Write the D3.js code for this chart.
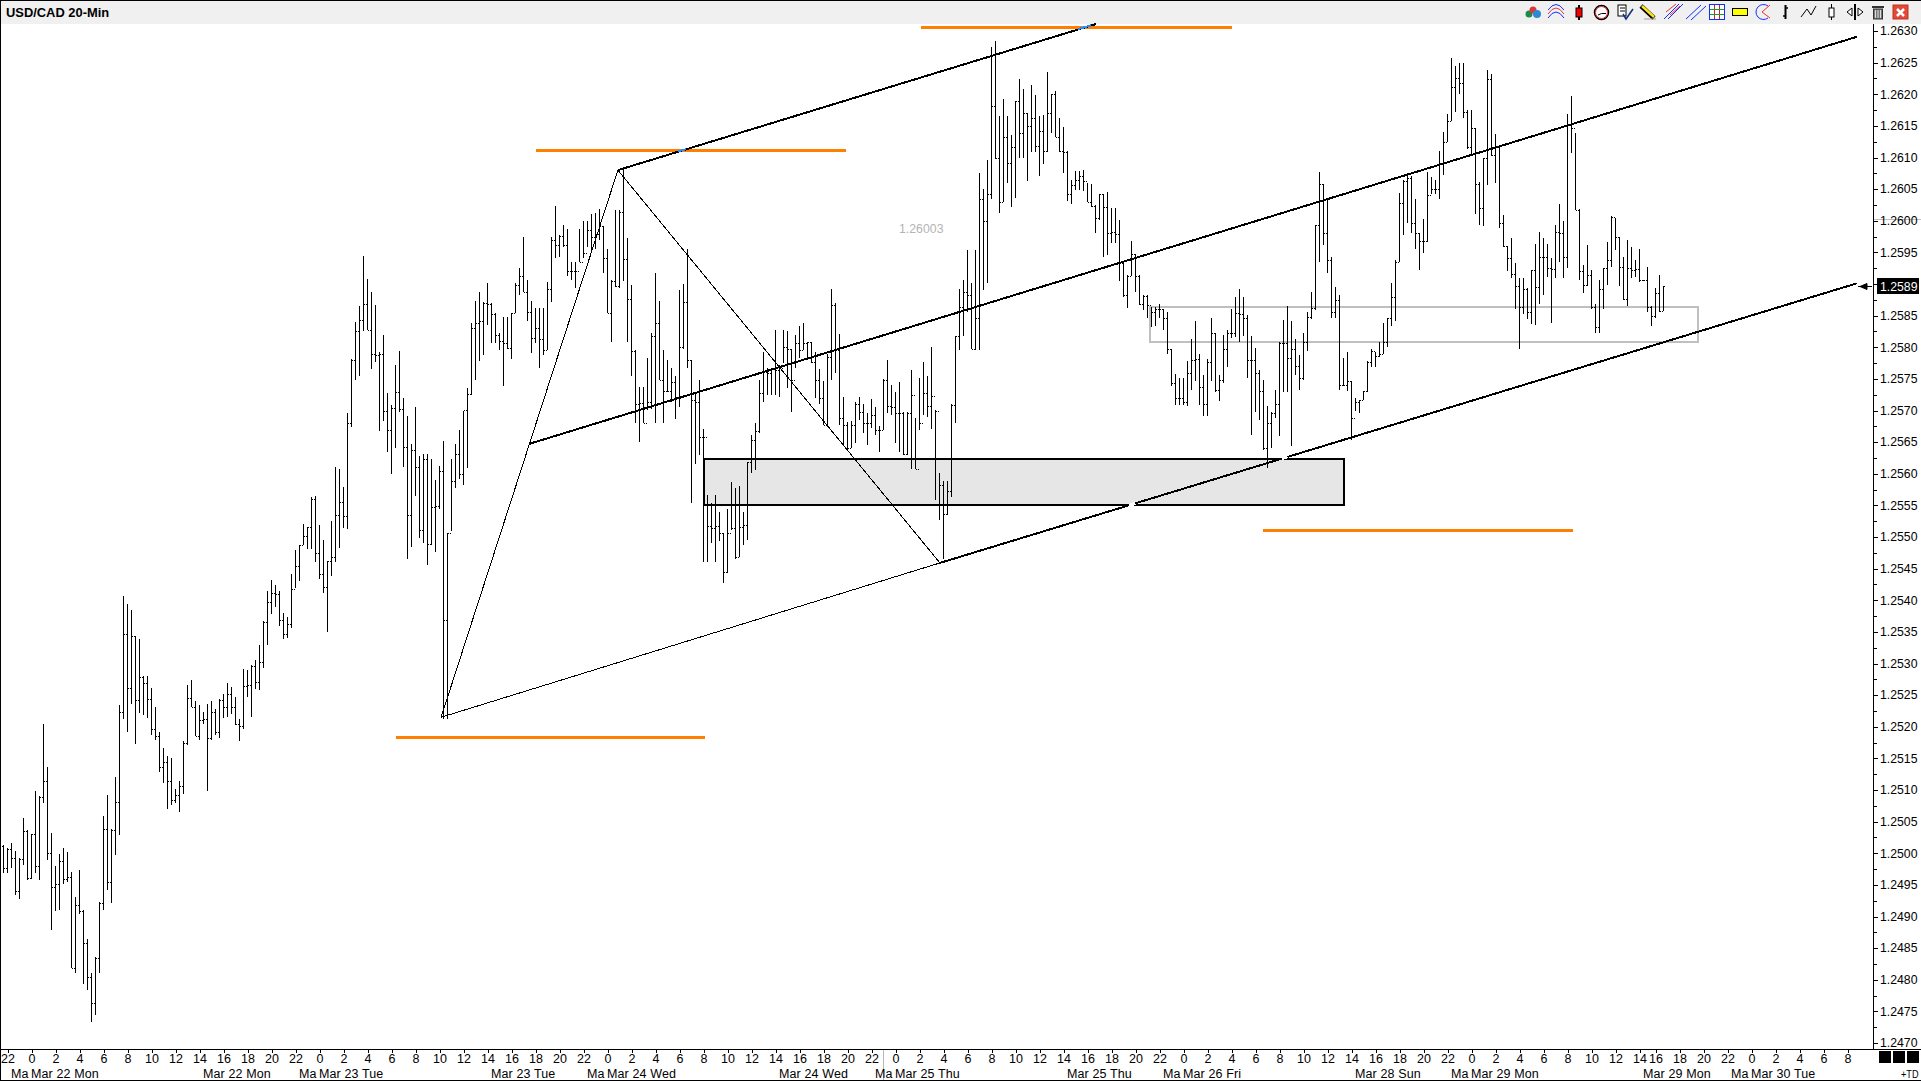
<!DOCTYPE html>
<html><head><meta charset="utf-8"><title>USD/CAD 20-Min</title>
<script src="https://cdn.jsdelivr.net/npm/d3@7/dist/d3.min.js"></script>
<style>html,body{margin:0;padding:0;background:#fff;overflow:hidden}svg{display:block}text{font-family:"Liberation Sans",Arial,sans-serif}</style>
</head><body><svg id="c" width="1921" height="1081"></svg>
<script>
const chartTitle="USD/CAD 20-Min";
// All prices below are in units of 0.00001 above 1.20000.
const highs=[5013,5008,5016,5004,4992,5056,5036,5031,5099,5091,5205,5137,5032,4980,4999,5008,5002,4970,4931,4973,4910,4864,4811,4836,4923,5059,5092,5038,5121,5234,5407,5394,5385,5343,5338,5281,5280,5262,5232,5191,5166,5154,5150,5102,5114,5177,5266,5274,5240,5235,5224,5236,5240,5228,5244,5252,5269,5263,5247,5213,5292,5290,5298,5305,5330,5367,5415,5432,5424,5415,5380,5374,5441,5479,5488,5521,5516,5564,5565,5519,5495,5462,5525,5610,5608,5579,5696,5781,5840,5866,5944,5908,5887,5867,5792,5819,5728,5709,5772,5794,5720,5691,5647,5706,5628,5632,5632,5623,5590,5612,5651,5506,5623,5647,5669,5700,5735,5838,5873,5887,5872,5901,5870,5854,5822,5848,5848,5854,5901,5926,5974,5906,5873,5862,5862,5862,5903,5975,6023,5978,5993,5987,5935,5935,5987,5999,5999,6011,6013,6018,5992,5956,5906,6017,6017,6083,5973,5899,5796,5737,5737,5783,5823,5917,5873,5796,5780,5767,5754,5891,5900,5955,5780,5727,5748,5670,5566,5553,5566,5540,5506,5545,5587,5577,5581,5540,5618,5661,5680,5748,5793,5767,5767,5827,5772,5828,5825,5798,5820,5834,5838,5809,5809,5793,5765,5746,5790,5892,5870,5821,5722,5682,5684,5714,5721,5711,5696,5718,5706,5675,5750,5780,5740,5730,5745,5698,5698,5764,5688,5751,5777,5754,5801,5701,5601,5588,5589,5711,5818,5892,5907,5954,5901,5954,6075,6050,6096,6275,6284,6165,6192,6165,6136,6189,6224,6208,6170,6215,6199,6165,6167,6235,6201,6205,6162,6148,6110,6065,6079,6078,6081,6059,6058,6025,6042,6042,6046,6020,6020,6001,5933,5914,5968,5948,5914,5883,5883,5864,5864,5868,5861,5856,5797,5757,5751,5752,5778,5813,5842,5789,5756,5782,5846,5823,5756,5819,5827,5860,5879,5892,5879,5851,5818,5799,5764,5748,5707,5698,5733,5809,5843,5865,5842,5813,5788,5823,5855,5887,5994,6077,6058,6033,5942,5896,5882,5783,5793,5747,5719,5716,5731,5779,5797,5793,5809,5839,5847,5901,5938,6044,6064,6071,6071,6034,5981,6002,6077,6069,6064,6111,6141,6168,6257,6244,6250,6250,6175,6175,6147,6062,6099,6239,6232,6137,6117,6009,5960,5972,5933,5909,5909,5893,5922,5963,5982,5972,5963,5941,5993,6027,5999,6169,6197,6138,6018,5930,5962,5922,5868,5906,5926,5967,6008,6005,5975,5942,5970,5958,5938,5956,5907,5927,5865,5893,5914,5897];
const lows=[4968,4969,4977,4934,4927,4981,4957,4960,4968,4957,5080,4990,4878,4908,4910,4952,4955,4818,4810,4904,4793,4784,4733,4744,4811,4910,4942,4921,4998,5029,5213,5192,5236,5172,5222,5219,5214,5187,5179,5128,5111,5070,5076,5079,5066,5094,5171,5232,5185,5179,5204,5099,5179,5187,5183,5214,5215,5220,5202,5178,5197,5247,5215,5260,5258,5293,5330,5379,5390,5359,5339,5340,5356,5420,5431,5487,5481,5481,5460,5434,5412,5350,5439,5461,5482,5515,5513,5674,5748,5755,5825,5828,5766,5777,5668,5684,5635,5599,5641,5698,5611,5465,5484,5565,5498,5491,5456,5487,5477,5544,5213,5213,5510,5578,5592,5582,5609,5725,5748,5779,5788,5835,5807,5807,5796,5738,5798,5782,5854,5882,5887,5842,5791,5806,5767,5788,5796,5871,5941,5942,5959,5912,5906,5893,5935,5941,5959,5949,5956,5970,5918,5854,5809,5896,5894,5904,5809,5754,5680,5650,5680,5701,5703,5680,5748,5680,5730,5714,5686,5706,5798,5767,5553,5616,5630,5461,5461,5491,5461,5493,5428,5443,5511,5466,5469,5487,5495,5601,5606,5665,5714,5725,5725,5725,5722,5775,5735,5698,5767,5783,5796,5783,5775,5719,5711,5677,5674,5748,5759,5677,5645,5638,5640,5648,5685,5664,5645,5672,5661,5635,5669,5696,5693,5648,5635,5630,5630,5607,5607,5669,5693,5690,5671,5559,5527,5466,5535,5564,5680,5796,5817,5856,5798,5796,5796,5891,5901,6035,6097,6013,6030,6059,6022,6036,6099,6099,6063,6109,6109,6071,6090,6109,6138,6133,6108,6076,6031,6026,6049,6049,6047,6029,6022,5981,6001,5943,5946,5965,5965,5904,5880,5862,5912,5888,5867,5859,5847,5832,5834,5846,5828,5790,5738,5709,5709,5709,5707,5733,5746,5709,5692,5692,5746,5730,5715,5743,5769,5814,5816,5809,5817,5751,5661,5698,5685,5638,5609,5640,5688,5659,5730,5730,5644,5756,5732,5748,5794,5844,5859,5934,5962,5917,5847,5847,5733,5738,5731,5653,5699,5696,5717,5730,5768,5769,5785,5790,5801,5833,5842,5934,5978,5996,5981,5955,5922,5949,5967,6042,6042,6035,6072,6125,6158,6172,6201,6163,6114,6104,6011,5993,5992,6057,6103,6059,5989,5959,5921,5909,5860,5797,5853,5844,5836,5835,5868,5883,5911,5839,5910,5934,5910,5926,6107,6017,5906,5886,5897,5860,5823,5822,5860,5898,5927,5953,5897,5875,5866,5909,5911,5903,5905,5856,5833,5847,5856,5858];
const closes=[4976,5007,4992,4940,4991,5035,4961,5030,4980,5089,5115,5001,4947,4952,4988,4960,4962,4819,4918,4909,4858,4805,4764,4835,4922,5039,4955,5036,5081,5223,5346,5262,5343,5242,5279,5269,5244,5196,5185,5137,5144,5114,5084,5092,5107,5175,5246,5232,5185,5210,5212,5182,5224,5192,5243,5232,5251,5231,5204,5201,5264,5266,5296,5270,5302,5366,5398,5411,5410,5368,5347,5363,5417,5454,5487,5502,5516,5560,5475,5442,5421,5462,5469,5534,5555,5533,5680,5780,5825,5843,5868,5827,5789,5788,5790,5700,5669,5704,5730,5703,5642,5534,5637,5610,5511,5623,5489,5548,5549,5605,5368,5507,5589,5632,5600,5701,5726,5831,5838,5842,5870,5868,5853,5819,5810,5807,5799,5854,5898,5913,5887,5855,5815,5831,5813,5796,5892,5969,5962,5976,5962,5921,5921,5921,5935,5949,5985,5975,5979,5991,5941,5854,5905,5897,6014,5940,5877,5794,5711,5712,5680,5714,5818,5838,5749,5731,5731,5745,5722,5801,5872,5780,5717,5714,5658,5658,5517,5515,5517,5506,5444,5506,5514,5468,5516,5519,5618,5653,5667,5727,5761,5760,5767,5764,5767,5800,5798,5749,5806,5796,5806,5809,5777,5748,5719,5677,5785,5867,5796,5688,5677,5640,5677,5711,5698,5680,5680,5693,5669,5669,5748,5707,5706,5696,5696,5632,5696,5725,5607,5680,5727,5707,5723,5699,5582,5536,5573,5709,5817,5864,5888,5883,5798,5847,6035,5999,6043,6182,6099,6030,6133,6092,6117,6189,6139,6170,6150,6162,6118,6142,6111,6171,6200,6133,6110,6109,6042,6056,6064,6070,6063,6030,6023,6004,6042,6021,5981,5983,5979,5933,5882,5913,5948,5913,5869,5881,5867,5856,5860,5861,5847,5797,5743,5719,5719,5714,5759,5780,5782,5737,5710,5777,5822,5733,5748,5798,5822,5822,5854,5853,5847,5780,5780,5759,5731,5640,5680,5696,5711,5807,5807,5783,5797,5770,5751,5809,5848,5862,5993,6058,5981,5938,5856,5874,5741,5741,5747,5688,5714,5716,5731,5777,5794,5786,5790,5809,5847,5879,5934,6028,6063,6067,5997,5980,5968,5968,6041,6050,6050,6090,6125,6158,6212,6225,6217,6172,6116,6146,6058,6020,6099,6224,6104,6116,5996,5960,5941,5916,5897,5864,5892,5856,5922,5895,5943,5943,5925,5923,5983,5981,5943,6151,6146,6017,5921,5898,5914,5864,5832,5892,5926,5938,6006,5975,5927,5876,5926,5922,5923,5906,5906,5864,5849,5886,5858,5897];
const opens=[5011,4976,5007,4992,4940,4991,5035,4961,5030,4980,5089,5115,5001,4947,4952,4988,4960,4962,4819,4918,4909,4858,4805,4764,4835,4922,5039,4955,5036,5081,5223,5346,5262,5343,5242,5279,5269,5244,5196,5185,5137,5144,5114,5084,5092,5107,5175,5246,5232,5185,5210,5212,5182,5224,5192,5243,5232,5251,5231,5204,5201,5264,5266,5296,5270,5302,5366,5398,5411,5410,5368,5347,5363,5417,5454,5487,5502,5516,5560,5475,5442,5421,5462,5469,5534,5555,5533,5680,5780,5825,5843,5868,5827,5789,5788,5790,5700,5669,5704,5730,5703,5642,5534,5637,5610,5511,5623,5489,5548,5549,5605,5368,5507,5589,5632,5600,5701,5726,5831,5838,5842,5870,5868,5853,5819,5810,5807,5799,5854,5898,5913,5887,5855,5815,5831,5813,5796,5892,5969,5962,5976,5962,5921,5921,5921,5935,5949,5985,5975,5979,5991,5941,5854,5905,5897,6014,5940,5877,5794,5711,5712,5680,5714,5818,5838,5749,5731,5731,5745,5722,5801,5872,5780,5717,5714,5658,5658,5517,5515,5517,5506,5444,5506,5514,5468,5516,5519,5618,5653,5667,5727,5761,5760,5767,5764,5767,5800,5798,5749,5806,5796,5806,5809,5777,5748,5719,5677,5785,5867,5796,5688,5677,5640,5677,5711,5698,5680,5680,5693,5669,5669,5748,5707,5706,5696,5696,5632,5696,5725,5607,5680,5727,5707,5723,5699,5582,5536,5573,5709,5817,5864,5888,5883,5798,5847,6035,5999,6043,6182,6099,6030,6133,6092,6117,6189,6139,6170,6150,6162,6118,6142,6111,6171,6200,6133,6110,6109,6042,6056,6064,6070,6063,6030,6023,6004,6042,6021,5981,5983,5979,5933,5882,5913,5948,5913,5869,5881,5867,5856,5860,5861,5847,5797,5743,5719,5719,5714,5759,5780,5782,5737,5710,5777,5822,5733,5748,5798,5822,5822,5854,5853,5847,5780,5780,5759,5731,5640,5680,5696,5711,5807,5807,5783,5797,5770,5751,5809,5848,5862,5993,6058,5981,5938,5856,5874,5741,5741,5747,5688,5714,5716,5731,5777,5794,5786,5790,5809,5847,5879,5934,6028,6063,6067,5997,5980,5968,5968,6041,6050,6050,6090,6125,6158,6212,6225,6217,6172,6116,6146,6058,6020,6099,6224,6104,6116,5996,5960,5941,5916,5897,5864,5892,5856,5922,5895,5943,5943,5925,5923,5983,5981,5943,6151,6146,6017,5921,5898,5914,5864,5832,5892,5926,5938,6006,5975,5927,5876,5926,5922,5923,5906,5906,5864,5849,5886,5858];

const priceTicks=[1.2470,1.2475,1.2480,1.2485,1.2490,1.2495,1.2500,1.2505,1.2510,1.2515,1.2520,1.2525,1.2530,1.2535,1.2540,1.2545,1.2550,1.2555,1.2560,1.2565,1.2570,1.2575,1.2580,1.2585,1.2590,1.2595,1.2600,1.2605,1.2610,1.2615,1.2620,1.2625,1.2630];
const hourTickBars=[1,7,13,19,25,31,37,43,49,55,61,67,73,79,85,91,97,103,109,115,121,127,133,139,145,151,157,163,169,175,181,187,193,199,205,211,217,223,229,235,241,247,253,259,265,271,277,283,289,295,301,307,313,319,325,331,337,343,349,355,361,367,373,379,385,391,397,403,409,413,419,425,431,437,443,449,455,461];
const hourTickLabels=[22,0,2,4,6,8,10,12,14,16,18,20,22,0,2,4,6,8,10,12,14,16,18,20,22,0,2,4,6,8,10,12,14,16,18,20,22,0,2,4,6,8,10,12,14,16,18,20,22,0,2,4,6,8,10,12,14,16,18,20,22,0,2,4,6,8,10,12,14,16,18,20,22,0,2,4,6,8];
const dateLabelBars=[2,7,50,74,79,122,146,151,194,218,223,266,290,295,338,362,367,410,432,437];
const dateLabelTexts=["Ma","Mar 22 Mon","Mar 22 Mon","Ma","Mar 23 Tue","Mar 23 Tue","Ma","Mar 24 Wed","Mar 24 Wed","Ma","Mar 25 Thu","Mar 25 Thu","Ma","Mar 26 Fri","Mar 28 Sun","Ma","Mar 29 Mon","Mar 29 Mon","Ma","Mar 30 Tue"];

// Drawing objects: [bar index, price] pairs, same price unit as above
const thinLines=[[[109.4,5215],[153.6,6080]],[[153.6,6080],[234.1,5459]],[[109.4,5215],[234.1,5459]]];
const thickLines=[[[153.6,6080],[273.1,6311]],[[131.3,5647],[463.4,6291]],[[234.1,5459],[463.3,5901]]];
const orangeLines=[[[98,5183],[175.4,5183]],[[133.05,6111],[210.55,6111]],[[229.4,6306],[307,6306]],[[314.9,5510],[392.4,5510]]];
const blueCross=[[[168.6,6110],[170.6,6113]],[[268.6,6303],[271.9,6309]]];
const whiteCross=[[[281.4,5550],[283,5553]],[[319.6,5624],[321,5627]]];
const demandBox=[175,334.9,5623,5549.5];
const rangeBox=[286.6,423.6,5863,5807];
const crosshairBar=219.9, crosshairPrice=6003;
const crosshairText="1.26003", lastPriceText="1.2589";

const svg=d3.select("#c");
const X=d3.scaleLinear().domain([0,415]).range([3.5,1663.5]);
const Y=d3.scaleLinear().domain([1.2470,1.2630]).range([1043,31]);
const P=v=>Y(1.2+v/1e5);
const axisX=1873, axisBottom=1049;
const root=svg.append("g").attr("shape-rendering","crispEdges");
root.append("rect").attr("width",1921).attr("height",1081).attr("fill","#fff");
// header
root.append("rect").attr("x",1).attr("y",1).attr("width",1920).attr("height",23).attr("fill","#f0f0f0");

// boxes
function box(b,fill,stroke){root.append("rect").attr("x",Math.round(X(b[0]))).attr("y",Math.round(P(b[2])))
 .attr("width",Math.round(X(b[1])-X(b[0]))).attr("height",Math.round(P(b[3])-P(b[2])))
 .attr("fill",fill).attr("stroke",stroke).attr("stroke-width",2);}
box(demandBox,"#e6e6e6","#000");
box(rangeBox,"none","#bfbfbf");

// OHLC bars
const bars=highs.map((h,i)=>({i,h,l:lows[i],o:opens[i],c:closes[i]}));
const gb=root.append("g");
gb.selectAll("line.b").data(bars).join("line").attr("class","b")
 .attr("x1",d=>X(d.i)).attr("x2",d=>X(d.i)).attr("y1",d=>P(d.h)).attr("y2",d=>P(d.l)).attr("stroke","#000").attr("stroke-width",1);
gb.selectAll("rect.o").data(bars).join("rect").attr("class","o").attr("x",d=>X(d.i)-1.5).attr("y",d=>Math.round(P(d.o))).attr("width",1).attr("height",1).attr("fill","#000");
gb.selectAll("rect.c").data(bars).join("rect").attr("class","c").attr("x",d=>X(d.i)+0.5).attr("y",d=>Math.round(P(d.c))).attr("width",1).attr("height",1).attr("fill","#000");

// drawing objects
const ln=d3.line().x(d=>X(d[0])).y(d=>P(d[1]));
function draw(list,color,w){root.append("g").selectAll("path").data(list).join("path").attr("d",ln).attr("fill","none").attr("stroke",color).attr("stroke-width",w);}
draw(orangeLines,"#ff8000",3);
draw(thinLines,"#000",1);
draw(thickLines,"#000",2);
draw(blueCross,"#1e90ff",2);
draw(whiteCross,"#fff",3);

// frame
root.append("rect").attr("x",0).attr("y",0).attr("width",1921).attr("height",1).attr("fill","#000");
root.append("rect").attr("x",0).attr("y",0).attr("width",1).attr("height",1081).attr("fill","#000");
root.append("rect").attr("x",0).attr("y",1080).attr("width",1921).attr("height",1).attr("fill","#000");
root.append("rect").attr("x",1).attr("y",axisBottom).attr("width",1920).attr("height",1).attr("fill","#000");
root.append("rect").attr("x",axisX).attr("y",24).attr("width",1).attr("height",axisBottom-24).attr("fill","#000");

// crosshair traces on the axes
root.append("rect").attr("x",axisX+1).attr("y",Math.round(P(crosshairPrice))).attr("width",47).attr("height",1).attr("fill","#c0c0c0");
root.append("rect").attr("x",Math.round(X(crosshairBar))).attr("y",axisBottom+1).attr("width",1).attr("height",30).attr("fill","#b8b8b8");

// y axis
const yAxis=d3.axisRight(Y).tickValues(priceTicks).tickSize(4).tickFormat(d3.format(".4f"));
const gy=svg.append("g").attr("transform",`translate(${axisX+0.5},0)`).call(yAxis);
gy.select(".domain").remove();
gy.selectAll("line").attr("stroke","#000").attr("shape-rendering","crispEdges");
gy.selectAll("text").attr("x",44).attr("text-anchor","end").attr("dy","0.28em").attr("fill","#000")
  .attr("font-size",13.5).attr("textLength",37.5).attr("lengthAdjust","spacingAndGlyphs").style("font-family",'"Liberation Sans",Arial,sans-serif');
const minor=priceTicks.slice(0,-1).map((t,i)=>(t+priceTicks[i+1])/2);
const gym=svg.append("g").attr("transform",`translate(${axisX+0.5},0)`).call(d3.axisRight(Y).tickValues(minor).tickSize(3).tickFormat(""));
gym.select(".domain").remove();
gym.selectAll("line").attr("stroke","#000").attr("shape-rendering","crispEdges");

// x axis
const xAxis=d3.axisBottom(X).tickValues(hourTickBars).tickSize(3).tickFormat((d,i)=>hourTickLabels[i]);
const gx=svg.append("g").attr("transform",`translate(0,${axisBottom+0.5})`).call(xAxis);
gx.select(".domain").remove();
gx.selectAll("line").attr("stroke","#000").attr("shape-rendering","crispEdges");
gx.selectAll("text").attr("y",13.5).attr("dy",0).attr("fill","#000").attr("font-size",12.5).style("font-family",'"Liberation Sans",Arial,sans-serif');

svg.append("g").selectAll("text").data(dateLabelBars).join("text")
 .attr("x",d=>X(d)-0.5).attr("y",1077.5).attr("font-size",12.5).attr("fill","#000").attr("letter-spacing",0.12).text((d,i)=>dateLabelTexts[i]);

// texts
svg.append("text").attr("x",6).attr("y",16.5).attr("font-size",12.9).attr("font-weight","bold").attr("fill","#000").text(chartTitle);
svg.append("text").attr("x",899).attr("y",P(crosshairPrice)+14.5).attr("font-size",12).attr("fill","#b4b4b4").attr("textLength",44.5).attr("lengthAdjust","spacingAndGlyphs").text(crosshairText);

// last price box and arrow
const lastY=P(closes[closes.length-1]);
svg.append("rect").attr("x",1877).attr("y",Math.round(lastY)-8).attr("width",42).attr("height",16).attr("fill","#000").attr("shape-rendering","crispEdges");
svg.append("text").attr("x",1917.5).attr("y",lastY+5).attr("text-anchor","end").attr("font-size",13.5).attr("fill","#fff").attr("textLength",37.5).attr("lengthAdjust","spacingAndGlyphs").text(lastPriceText);
svg.append("path").attr("d",`M1858 ${Math.round(lastY)+.5}H1872M1860 ${Math.round(lastY)+.5}L1867 ${Math.round(lastY)-2.5}V${Math.round(lastY)+3.5}Z`).attr("stroke","#000").attr("fill","#000").attr("stroke-width",1);

// bottom-right buttons
const sq=[1879,1893,1907];
svg.append("g").selectAll("rect").data(sq).join("rect").attr("x",d=>d).attr("y",1051).attr("width",12).attr("height",12).attr("fill","#000").attr("shape-rendering","crispEdges");
svg.append("text").attr("x",1901).attr("y",1078).attr("font-size",10.5).attr("fill","#000").attr("textLength",17.5).attr("lengthAdjust","spacingAndGlyphs").text("+TD");

// toolbar icons
const tb=svg.append("g").attr("fill","none").attr("stroke-width",1);
const P2=(d,s,f,w)=>tb.append("path").attr("d",d).attr("stroke",s||"none").attr("fill",f||"none").attr("stroke-width",w||1);
const C=(x,y,r,s,f,w)=>tb.append("circle").attr("cx",x).attr("cy",y).attr("r",r).attr("stroke",s||"none").attr("fill",f||"none").attr("stroke-width",w||1);
// cubes
C(1529,14,3.5,null,"#1d8c4a");C(1533,10,3.5,null,"#d83a3a");C(1537,14,4,null,"#2a8ad6");
// arcs
P2("M1548 14Q1556 2 1564 14","#f03030");P2("M1548 18Q1556 6 1564 18","#1030ff");P2("M1548 10Q1556 -1 1564 10","#1030ff");
// candle
P2("M1579 5V20","#000",null,2);tb.append("rect").attr("x",1576).attr("y",8).attr("width",6).attr("height",9).attr("fill","#f00000").attr("stroke","#000");
// clock
C(1601.5,12.5,7,"#000","#fff",1.5);C(1601.5,12.5,6,"#e03030",null,1);P2("M1601.5 13.5H1606M1601.5 13.5L1598 15","#000");
// checklist
tb.append("rect").attr("x",1618).attr("y",5).attr("width",8).attr("height",11).attr("fill","#fff").attr("stroke","#000");P2("M1620 8H1625M1620 11H1625","#000");P2("M1623 14L1626 19L1633 9","#10307f",null,1.5);
// pencil
P2("M1641 6L1654 18","#000",null,4.5);P2("M1642 6L1654 17","#ffe020",null,2.5);P2("M1644 19H1656","#a0a0a0");
// fork lines
P2("M1664 19L1679 4M1668 19L1683 4","#1030ff");P2("M1666 12L1676 4M1670 15L1680 6","#f03030");
// parallel
P2("M1686 19L1701 5M1691 20L1706 6","#1030ff");
// grid
tb.append("rect").attr("x",1709.5).attr("y",4.5).attr("width",15).attr("height",15).attr("fill","#fff").attr("stroke","#1030ff");P2("M1714.5 5V19","#d02020");P2("M1719.5 5V19","#d02020");P2("M1710 9.5H1724","#10a030");P2("M1710 14.5H1724","#10a030");
// yellow rect
tb.append("rect").attr("x",1732.5).attr("y",8.5).attr("width",15).attr("height",7).attr("fill","#ffff00").attr("stroke","#000");
// circle
P2("M1768 6A7.5 7.5 0 1 0 1768 18","#1030ff");P2("M1770 5L1762 12L1770 18","#f03030");
// bar
P2("M1785.5 5V19","#000",null,2);P2("M1783 16H1786M1786 8H1788","#000",null,1.5);
// zigzag
P2("M1801 17L1807 9L1811 15L1816 6","#000");
// candle outline
P2("M1831.5 4V20","#000");tb.append("rect").attr("x",1829).attr("y",8).attr("width",5).attr("height",9).attr("fill","#fff").attr("stroke","#000");
// arrows with bar
P2("M1855 4V20","#000",null,2);P2("M1852 8L1847 12L1852 16Z","#000","#fff");P2("M1858 8L1863 12L1858 16Z","#000","#fff");
// trash
tb.append("rect").attr("x",1873.5).attr("y",9).attr("width",9).attr("height",10).attr("fill","#777").attr("stroke","#333");P2("M1872 7H1884","#333",null,2);P2("M1875.5 10V18M1878 10V18M1880.5 10V18","#ddd");
// close
tb.append("rect").attr("x",1893).attr("y",5).attr("width",15).attr("height",14).attr("fill","#e04a3a").attr("stroke","#c03020");P2("M1897 9L1904 16M1904 9L1897 16","#fff",null,2.5);
</script></body></html>
